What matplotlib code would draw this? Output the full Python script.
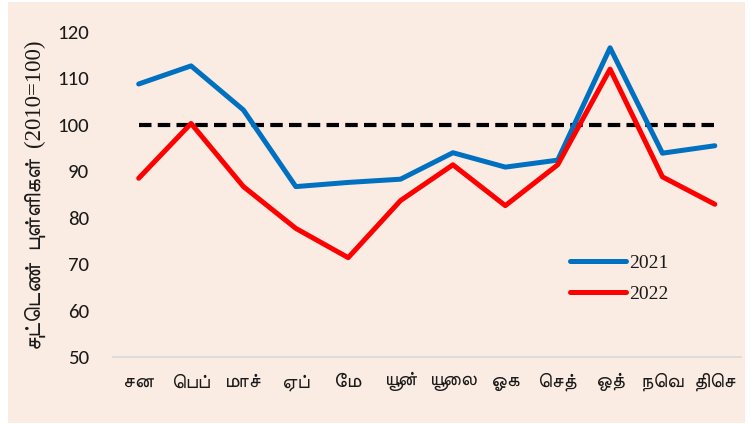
import re
import matplotlib
matplotlib.use("Agg")
import matplotlib.pyplot as plt
from matplotlib.patches import Rectangle

months = ["சன", "பெப்", "மாச்", "ஏப்", "மே", "யூன்", "யூலை", "ஓக", "செத்", "ஒத்", "நவெ", "திசெ"]
series_2021 = [108.8, 112.7, 103.2, 86.7, 87.6, 88.3, 94.0, 90.9, 92.4, 116.6, 93.9, 95.5]
series_2022 = [88.5, 100.3, 86.7, 77.7, 71.4, 83.7, 91.4, 82.6, 91.4, 112.0, 88.8, 82.9]
baseline = [100] * 12
yticks = [50, 60, 70, 80, 90, 100, 110, 120]
ylabel_ta = "சுட்டெண்  புள்ளிகள்"
ylabel_base = "(2010=100)"
legend_labels = ["2021", "2022"]


def visual(s):
    # place Tamil prefix vowel signs before their consonant (no shaping engine)
    return re.sub(r'([\u0B95-\u0BB9])([\u0BC6\u0BC7\u0BC8])', r'\2\1', s)


TAMIL = ["FreeSans", "DejaVu Sans"]
SERIF = ["Liberation Serif", "DejaVu Serif"]
NUM = ["Carlito", "Lato", "DejaVu Sans"]
BG = "#FBECE3"

fig = plt.figure(figsize=(7.55, 4.24), dpi=100, facecolor="white")
W, H = 755, 424
fig.patches.append(Rectangle((8 / W, 1 - 423 / H), (745 - 8) / W, (423 - 2) / H,
                             transform=fig.transFigure, facecolor=BG, edgecolor="none", zorder=-10))

ax = fig.add_axes([112.5 / W, 1 - 357 / H, (741 - 112.5) / W, (357 - 32) / H])
ax.set_facecolor("none")
x = list(range(len(months)))
ax.plot(x, baseline, color="black", lw=3, dashes=(3, 1.5), dash_capstyle="butt", zorder=2)
ax.plot(x, series_2021, color="#0070C0", lw=3.6, solid_capstyle="round", solid_joinstyle="round", label=legend_labels[0], zorder=3)
ax.plot(x, series_2022, color="#FF0000", lw=3.6, solid_capstyle="round", solid_joinstyle="round", label=legend_labels[1], zorder=3)

ax.set_xlim(-0.5, len(months) - 0.5)
ax.set_ylim(50, 120)
ax.set_yticks(yticks)
ax.set_yticklabels([str(v) for v in yticks], family=NUM, fontsize=15, color="#1a1a1a")
ax.set_xticks(x)
ax.set_xticklabels([visual(m) for m in months], family=TAMIL, fontsize=14.5, color="#1a1a1a")
ax.tick_params(axis="y", length=0, pad=17)
ax.tick_params(axis="x", length=0, pad=11)
for s in ["top", "right", "left"]:
    ax.spines[s].set_visible(False)
ax.spines["bottom"].set_color("#D9D9D9")
ax.spines["bottom"].set_linewidth(1.2)

fig.text(34 / W, 1 - 350 / H, visual(ylabel_ta), family=TAMIL, fontsize=16.5, rotation=90,
         rotation_mode="anchor", ha="left", va="center", color="#1a1a1a")
fig.text(34 / W, 1 - 147 / H, ylabel_base, family=SERIF, fontsize=16.5, rotation=90,
         rotation_mode="anchor", ha="left", va="center", color="#1a1a1a")

leg = ax.legend(loc="center left", bbox_to_anchor=(570 / W, 1 - 278.5 / H), bbox_transform=fig.transFigure,
                frameon=False, prop={"family": SERIF, "size": 14}, handlelength=2.9, handletextpad=0.15,
                labelspacing=0.7, borderpad=0, borderaxespad=0)
for t in leg.get_texts():
    t.set_color("#1a1a1a")

fig.savefig("out.png", dpi=100, facecolor="white")
